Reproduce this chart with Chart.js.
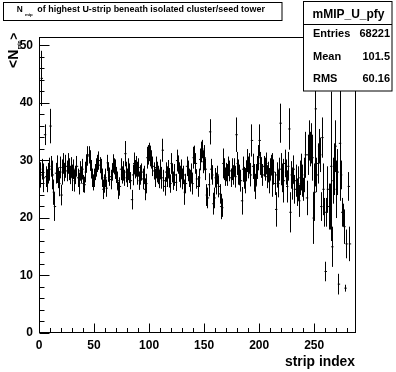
<!DOCTYPE html>
<html>
<head>
<meta charset="utf-8">
<script src="https://cdn.jsdelivr.net/npm/chart.js@4"></script>
<style>
html, body { margin: 0; padding: 0; background: #fff; }
</style>
</head>
<body>
<canvas id="chart" width="396" height="372"></canvas>
<script>
// profile of <N_mip> per strip (bin i covers strip i .. i+1)
const means = [
    28.0, 27.5, 44.3, 28.5, 27.0, 34.5, 27.2, 26.5, 27.8, 28.5,
    36.0, 29.0, 27.5, 24.5, 22.0, 27.8, 28.5, 27.0, 26.0, 28.8,
    24.0, 28.0, 29.5, 28.0, 29.0, 28.2, 29.5, 28.5, 27.5, 28.8,
    27.0, 28.5, 26.5, 27.5, 29.0, 27.0, 26.0, 28.2, 27.5, 28.5,
    26.0, 25.8, 28.0, 29.5, 30.8, 31.0, 30.0, 28.5, 27.0, 26.2,
    27.0, 28.0, 28.8, 29.5, 30.0, 29.2, 28.5, 27.0, 25.0, 26.0,
    27.0, 25.2, 29.6, 28.0, 27.2, 26.7, 28.0, 29.5, 29.0, 28.5,
    27.5, 26.5, 24.8, 25.5, 28.5, 27.5, 28.2, 27.0, 31.2, 28.0,
    27.0, 28.5, 27.8, 26.5, 23.2, 27.5, 29.5, 28.5, 29.0, 27.8,
    28.8, 26.5, 27.5, 28.0, 26.8, 27.5, 25.0, 26.0, 30.5, 31.0,
    31.5, 30.8, 30.2, 29.0, 28.2, 27.0, 28.8, 28.0, 27.5, 26.8,
    28.5, 27.0, 31.8, 26.5, 25.5, 28.0, 27.2, 28.5, 27.0, 26.0,
    29.5, 27.8, 26.5, 27.5, 26.2, 30.0, 29.3, 28.0, 27.2, 28.5,
    26.8, 27.5, 24.5, 26.0, 29.0, 28.2, 27.0, 26.5, 27.8, 26.0,
    30.5, 31.0, 29.5, 26.8, 25.5, 27.0, 30.2, 31.5, 32.0, 29.8,
    30.5, 28.5, 24.0, 23.5, 25.8, 35.0, 28.5, 27.5, 22.5, 23.5,
    27.0, 26.0, 27.5, 25.5, 24.2, 22.0, 21.8, 29.5, 28.5, 27.2,
    28.0, 27.5, 29.0, 28.2, 27.0, 28.5, 27.5, 28.8, 27.2, 34.5,
    29.5, 28.0, 27.5, 26.5, 23.0, 28.5, 27.0, 26.5, 28.2, 30.0,
    28.8, 29.5, 27.5, 33.5, 29.0, 27.0, 25.5, 27.5, 28.8, 30.5,
    33.5, 29.5, 28.8, 27.5, 29.0, 28.5, 29.5, 27.2, 28.0, 26.5,
    28.5, 29.2, 27.5, 28.0, 26.0, 21.5, 27.5, 26.0, 28.5, 36.5,
    28.5, 27.0, 26.5, 29.5, 28.0, 25.5, 29.0, 35.5, 21.0, 27.5,
    26.0, 28.5, 25.0, 26.5, 24.5, 26.0, 23.0, 27.0, 28.0, 26.5,
    25.0, 27.5, 31.0, 23.5, 31.0, 33.5, 32.0, 33.0, 30.5, 20.0,
    24.5, 39.0, 27.5, 29.5, 32.5, 31.0, 22.0, 34.0, 25.0, 21.0,
    10.7, 21.0, 25.0, 22.0, 22.0, 29.0, 15.0, 26.5, 28.5, 32.5,
    25.0, 28.0, 8.5, 33.0, 27.5, 21.0, 20.5, 18.5, 7.8, 15.5,
    null, 25.5, 15.5, null, null, null, null, null
];

const errors = [
    2.0, 2.2, 4.8, 1.8, 2.5, 1.8, 1.8, 2.0, 1.8, 2.0,
    3.0, 1.8, 2.5, 2.2, 2.5, 1.8, 2.4, 1.8, 2.2, 1.9,
    1.8, 2.2, 1.8, 1.6, 2.0, 1.8, 1.8, 1.9, 1.6, 1.8,
    2.3, 1.7, 1.9, 1.6, 1.8, 1.6, 1.9, 1.7, 1.5, 1.8,
    1.5, 1.4, 1.8, 1.6, 1.7, 1.5, 1.8, 1.6, 1.6, 1.4,
    1.6, 1.4, 1.6, 1.5, 1.6, 1.4, 1.8, 1.6, 1.7, 1.6,
    1.6, 1.5, 1.4, 1.7, 1.6, 1.7, 1.5, 1.6, 1.4, 1.7,
    1.4, 1.6, 1.5, 1.6, 1.9, 1.5, 1.7, 1.4, 2.2, 1.8,
    1.6, 1.9, 1.7, 1.5, 1.7, 1.8, 1.9, 1.6, 1.8, 2.0,
    1.6, 1.6, 1.7, 1.5, 1.8, 1.6, 1.9, 1.7, 1.9, 1.7,
    1.6, 1.8, 1.6, 1.7, 1.5, 1.6, 1.9, 1.8, 1.6, 1.6,
    1.7, 1.9, 2.0, 1.9, 1.6, 1.7, 1.8, 1.6, 1.7, 1.6,
    1.8, 1.6, 1.6, 1.9, 1.5, 1.9, 1.6, 1.7, 1.9, 1.7,
    1.8, 1.6, 2.2, 1.7, 1.7, 1.8, 1.6, 1.9, 1.7, 1.9,
    1.9, 1.6, 1.8, 1.7, 1.8, 1.6, 1.9, 1.8, 1.6, 2.0,
    2.2, 1.9, 1.9, 1.8, 2.0, 2.2, 1.8, 1.7, 1.9, 1.8,
    1.7, 1.9, 1.6, 1.9, 1.7, 2.2, 1.6, 2.6, 1.9, 1.6,
    1.6, 1.9, 1.7, 1.8, 1.6, 1.9, 1.7, 1.6, 1.9, 3.0,
    2.0, 2.2, 1.8, 1.9, 2.4, 2.2, 1.9, 2.2, 1.8, 2.0,
    1.9, 1.8, 2.0, 2.8, 2.2, 2.4, 2.2, 1.9, 2.0, 2.2,
    2.8, 2.0, 1.8, 1.9, 1.8, 2.0, 1.9, 2.0, 1.8, 2.2,
    1.9, 1.8, 3.8, 2.2, 2.0, 3.0, 2.2, 2.4, 2.0, 3.4,
    2.8, 2.5, 3.8, 2.4, 2.2, 2.8, 2.5, 3.6, 3.5, 2.4,
    2.8, 2.4, 2.5, 2.8, 2.4, 3.0, 2.8, 3.0, 3.2, 2.8,
    2.0, 3.0, 4.0, 3.0, 3.5, 3.5, 3.0, 3.5, 4.0, 4.5,
    5.0, 13.5, 3.0, 3.5, 3.0, 3.0, 2.5, 3.5, 4.5, 2.5,
    1.7, 2.5, 4.0, 4.0, 4.0, 13.0, 3.5, 4.0, 4.5, 4.5,
    5.0, 4.0, 1.8, 10.0, 2.5, 2.5, 2.0, 3.0, 0.6, 2.5,
    null, 2.5, 3.0, null, null, null, null, null
];

const xTickValues = [0, 50, 100, 150, 200, 250];
const yTickValues = [0, 10, 20, 30, 40, 50];
const statsLabels = ['Entries', 'Mean', 'RMS'];
const statsValues = ['68221', '101.5', '60.16'];

const FONT = '"Liberation Sans", Arial, sans-serif';

// 平均値の点（ビン幅の横線）
const points = [];
means.forEach((m, i) => {
    if (m !== null) points.push({ x: i + 0.5, y: m });
});

function snap(v) {
    return Math.floor(v) + 0.5;
}

// draw text in bold, sized so that it spans a target width
function fitText(ctx, text, x, y, size, width, align) {
    ctx.font = 'bold ' + size + 'px ' + FONT;
    const w = ctx.measureText(text).width;
    const s = size * width / w;
    ctx.font = 'bold ' + s.toFixed(2) + 'px ' + FONT;
    ctx.textAlign = align;
    ctx.fillText(text, x, y);
}

// エラーバー
const errorBars = {
    id: 'errorBars',
    beforeDatasetsDraw(chart) {
        const { ctx, chartArea, scales: { x, y } } = chart;
        ctx.save();
        ctx.beginPath();
        ctx.rect(chartArea.left, chartArea.top, chartArea.width, chartArea.height);
        ctx.clip();
        ctx.strokeStyle = '#000';
        ctx.lineWidth = 1;
        ctx.beginPath();
        means.forEach((m, i) => {
            if (m === null) return;
            const px = snap(x.getPixelForValue(i + 0.5));
            ctx.moveTo(px, y.getPixelForValue(m + errors[i]));
            ctx.lineTo(px, y.getPixelForValue(m - errors[i]));
        });
        ctx.stroke();
        ctx.restore();
    }
};

// 枠、目盛り、タイトル、統計ボックス
const decorations = {
    id: 'decorations',
    afterDraw(chart) {
        const { ctx, chartArea, scales: { x, y } } = chart;
        const L = snap(chartArea.left), R = snap(chartArea.right - 1);
        const T = snap(chartArea.top), B = snap(chartArea.bottom - 1);
        ctx.save();
        ctx.strokeStyle = '#000';
        ctx.fillStyle = '#000';
        ctx.lineWidth = 1;

        ctx.strokeRect(L, T, R - L, B - T);

        ctx.beginPath();
        for (let v = 0; v <= 288; v += 10) {
            const px = snap(x.getPixelForValue(v));
            const len = v % 50 === 0 ? 9 : 4.5;
            ctx.moveTo(px, B);
            ctx.lineTo(px, B - len);
        }
        for (let v = 0; v <= 51; v += 2) {
            const py = snap(y.getPixelForValue(v));
            const len = v % 10 === 0 ? 10 : 5;
            ctx.moveTo(L, py);
            ctx.lineTo(L + len, py);
        }
        ctx.stroke();

        // title box
        ctx.fillStyle = '#fff';
        ctx.fillRect(3.5, 2.5, 278.5, 18);
        ctx.strokeRect(3.5, 2.5, 278.5, 18);
        ctx.fillStyle = '#000';
        ctx.textBaseline = 'alphabetic';
        fitText(ctx, 'N', 16.7, 12, 9, 6, 'left');
        fitText(ctx, 'mip', 25, 15.5, 5, 7.7, 'left');
        fitText(ctx, 'of highest U-strip beneath isolated cluster/seed tower', 37.3, 12, 9, 228, 'left');

        // stats box
        ctx.fillStyle = '#fff';
        ctx.fillRect(303.5, 1.5, 88.5, 89.5);
        ctx.strokeRect(303.5, 1.5, 88.5, 89.5);
        ctx.beginPath();
        ctx.moveTo(303.5, 24.5);
        ctx.lineTo(392, 24.5);
        ctx.stroke();
        ctx.fillStyle = '#000';
        fitText(ctx, 'mMIP_U_pfy', 348.5, 18, 12, 72, 'center');
        ctx.font = 'bold 11px ' + FONT;
        const rowY = [37, 60, 82];
        statsLabels.forEach((lab, i) => {
            ctx.textAlign = 'left';
            ctx.fillText(lab, 313, rowY[i]);
            ctx.textAlign = 'right';
            ctx.fillText(statsValues[i], 390, rowY[i]);
        });

        // axis titles
        fitText(ctx, 'strip index', 355, 366, 14, 70, 'right');

        ctx.translate(18, 68);
        ctx.rotate(-Math.PI / 2);
        ctx.textAlign = 'left';
        ctx.font = 'bold 14px ' + FONT;
        ctx.fillText('<N', 0, 0);
        let off = ctx.measureText('<N').width;
        ctx.font = 'bold 5px ' + FONT;
        ctx.fillText('mip', off + 0.5, 3);
        off += ctx.measureText('mip').width + 1;
        ctx.font = 'bold 12px ' + FONT;
        ctx.fillText('>', off, 0);
        ctx.restore();
    }
};

const tickFont = { family: FONT, weight: 'bold', size: 12 };

new Chart(document.getElementById('chart'), {
    type: 'scatter',
    data: {
        datasets: [{
            data: points,
            pointStyle: 'line',
            pointRadius: 1.2,
            pointBorderWidth: 1,
            borderColor: '#000',
            backgroundColor: '#000',
            showLine: false
        }]
    },
    options: {
        responsive: false,
        animation: false,
        devicePixelRatio: 1,
        layout: { padding: { top: 37, right: 40, left: 0, bottom: 0 } },
        plugins: { legend: { display: false }, tooltip: { enabled: false } },
        scales: {
            x: {
                type: 'linear',
                min: 0,
                max: 288,
                grid: { display: false, drawTicks: false },
                border: { display: false },
                ticks: { font: tickFont, color: '#000', padding: 5, maxRotation: 0, autoSkip: false },
                afterBuildTicks: (scale) => { scale.ticks = xTickValues.map(v => ({ value: v })); },
                afterFit: (scale) => { scale.height = 39; }
            },
            y: {
                type: 'linear',
                min: 0,
                max: 51.5,
                grid: { display: false, drawTicks: false },
                border: { display: false },
                ticks: { font: tickFont, color: '#000', padding: 6, autoSkip: false },
                afterBuildTicks: (scale) => { scale.ticks = yTickValues.map(v => ({ value: v })); },
                afterFit: (scale) => { scale.width = 39; }
            }
        }
    },
    plugins: [errorBars, decorations]
});
</script>
</body>
</html>
